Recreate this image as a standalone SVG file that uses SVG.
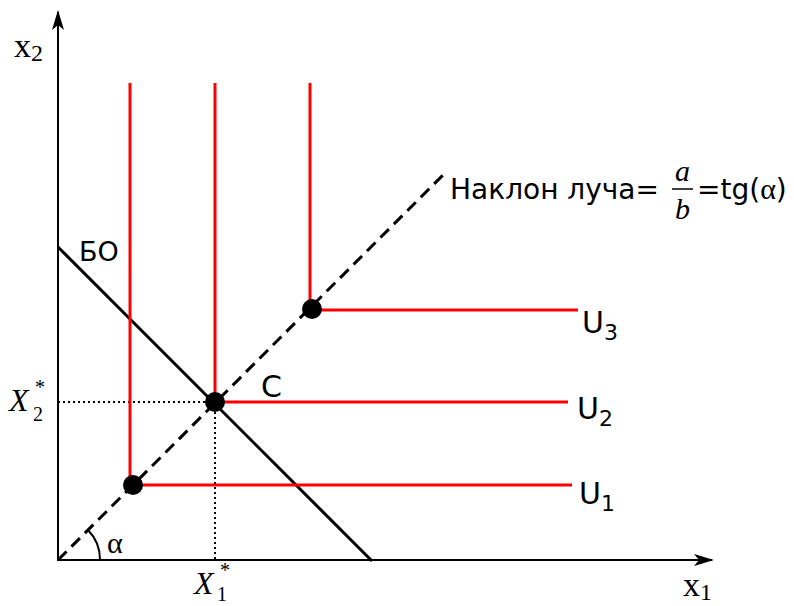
<svg xmlns="http://www.w3.org/2000/svg" width="794" height="606" viewBox="0 0 794 606">
<style>
.ax{stroke:#000;stroke-width:2;fill:none}
.red{stroke:#f00;stroke-width:3;fill:none}
.dot{fill:#000}
.tm{font-family:"Liberation Serif",serif;fill:#000}
.sn{font-family:"DejaVu Sans",sans-serif;fill:#000}
</style>
<defs>
<marker id="ah" viewBox="0 0 20 12" refX="18" refY="6" markerWidth="20" markerHeight="12" markerUnits="userSpaceOnUse" orient="auto">
<path d="M0,0 L20,6 L0,12 L5,6 z" fill="#000"/>
</marker>
</defs>
<g id="connectors">
<line class="ax" x1="58" y1="561" x2="58" y2="12" marker-end="url(#ah)"/>
<line class="ax" x1="57" y1="560" x2="712" y2="560" marker-end="url(#ah)"/>
<line x1="58" y1="560" x2="445" y2="173" stroke="#000" stroke-width="3" stroke-dasharray="12,7"/>
<line x1="58" y1="247" x2="372" y2="561" stroke="#000" stroke-width="3"/>
<line x1="58" y1="402" x2="215" y2="402" stroke="#000" stroke-width="2" stroke-dasharray="2,3"/>
<line x1="215" y1="402" x2="215" y2="560" stroke="#000" stroke-width="2" stroke-dasharray="2,3"/>
<path d="M100,560 A42,42 0 0 0 88,530" class="ax"/>
</g>
<g id="U1">
<path class="red" d="M130,83 V485 H572"/>
<circle class="dot" cx="133" cy="485" r="10"/>
<text class="sn" x="579" y="504" font-size="30">U<tspan font-size="22" dy="7">1</tspan></text>
</g>
<g id="U2">
<path class="red" d="M215,83 V402 H568"/>
<circle class="dot" cx="215" cy="402" r="10"/>
<text class="sn" x="577" y="419" font-size="30">U<tspan font-size="22" dy="7">2</tspan></text>
<text class="sn" x="261" y="397" font-size="30">C</text>
</g>
<g id="U3">
<path class="red" d="M310,83 V310 H578"/>
<circle class="dot" cx="312" cy="309" r="10"/>
<text class="sn" x="582" y="333" font-size="30">U<tspan font-size="22" dy="7">3</tspan></text>
</g>
<g id="labels">
<text class="tm" x="14" y="57" font-size="34">x<tspan font-size="24" dy="4">2</tspan></text>
<text class="tm" x="683" y="596" font-size="34">x<tspan font-size="24" dy="4">1</tspan></text>
<text class="tm" x="9" y="411" font-size="32" font-style="italic">X</text>
<text class="tm" x="35" y="394" font-size="20">*</text>
<text class="tm" x="33" y="421" font-size="20">2</text>
<text class="tm" x="194" y="594" font-size="32" font-style="italic">X</text>
<text class="tm" x="220" y="577" font-size="20">*</text>
<text class="tm" x="217" y="601" font-size="20">1</text>
<text class="tm" x="107" y="553" font-size="30">α</text>
<text class="sn" x="79" y="261" font-size="27">БО</text>
<text class="sn" x="450" y="199" font-size="28">Наклон луча=</text>
<text class="tm" x="675" y="181" font-size="30" font-style="italic">a</text>
<line x1="672" y1="189" x2="693" y2="189" stroke="#000" stroke-width="1.5"/>
<text class="tm" x="675" y="219" font-size="30" font-style="italic">b</text>
<text class="sn" x="697" y="199" font-size="28">=tg(<tspan class="tm" font-family="Liberation Serif" font-size="30">α</tspan>)</text>
</g>
</svg>
